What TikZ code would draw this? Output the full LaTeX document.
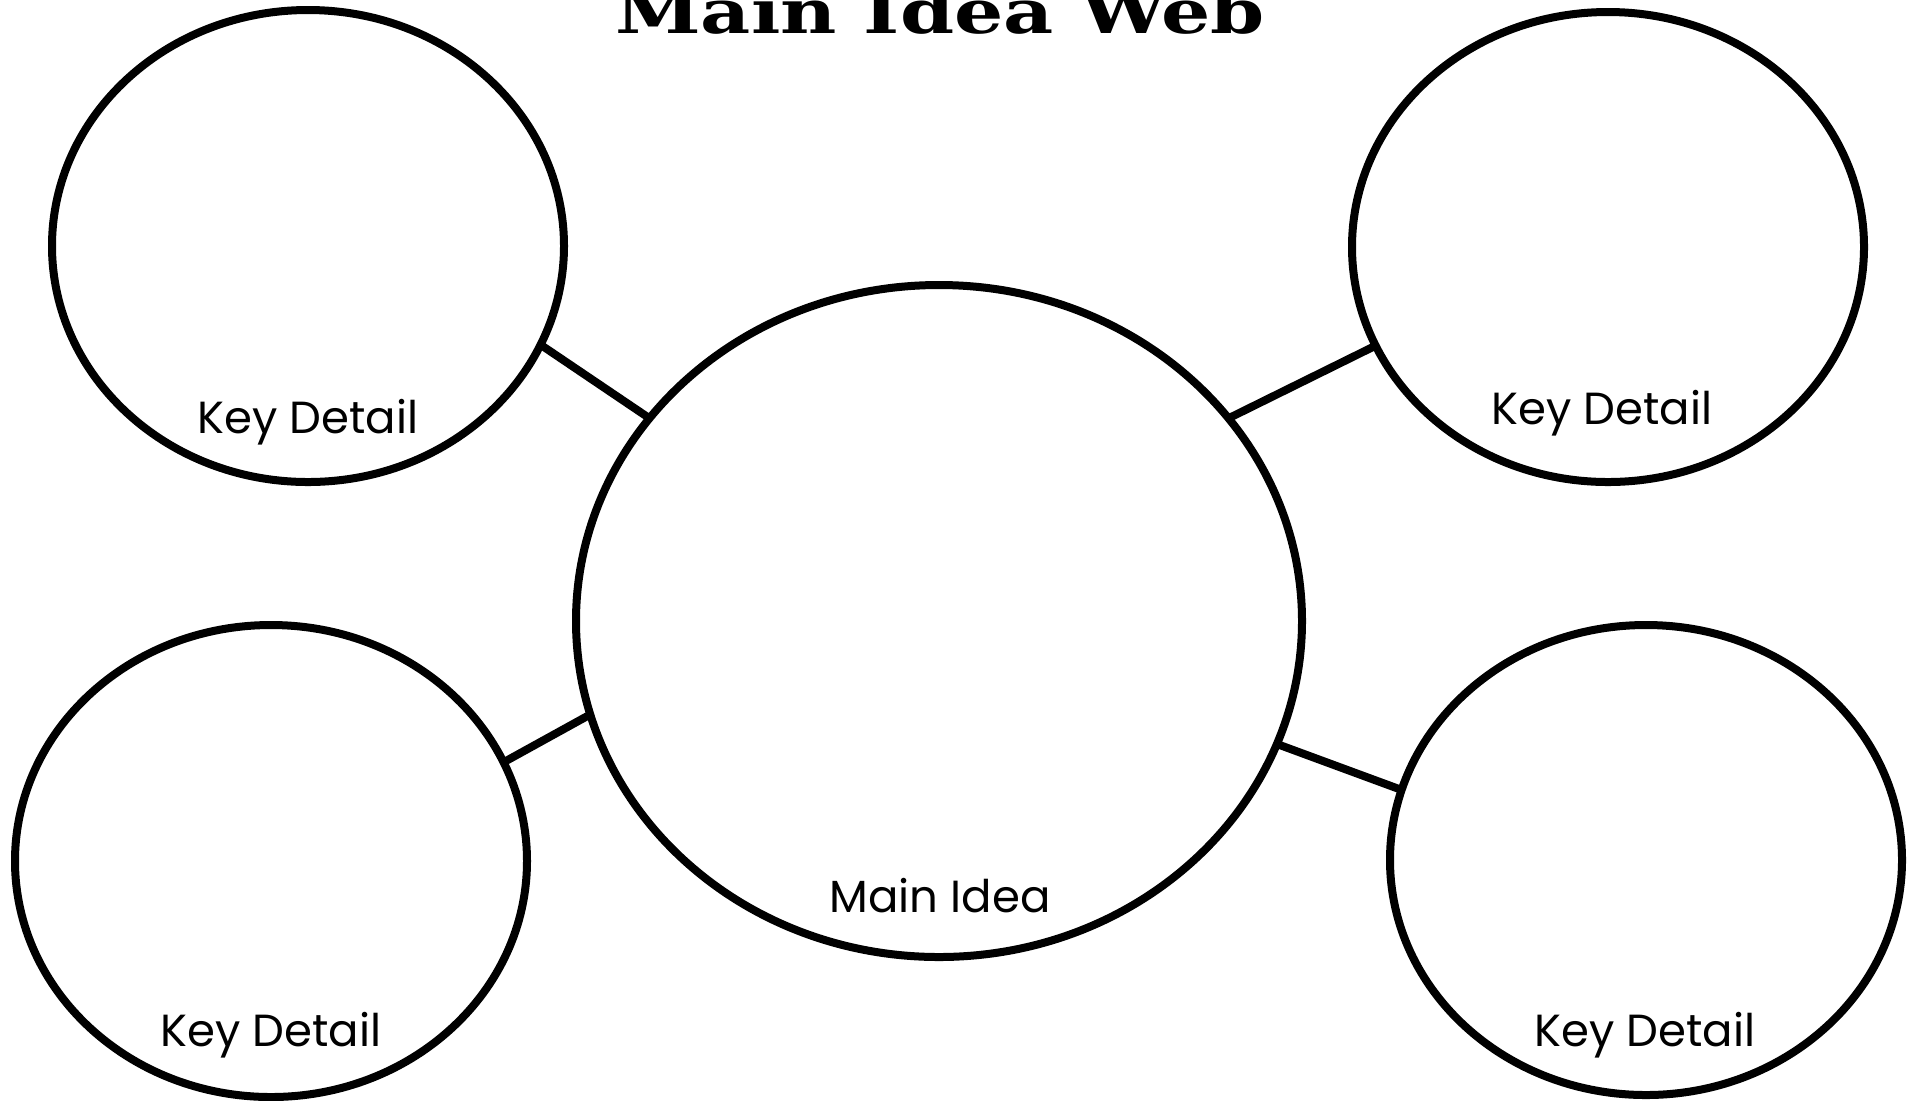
\documentclass[tikz,border=0pt]{standalone}
\usepackage{fontspec}
\setmainfont{Poppins}
\newfontfamily\titlefont{DejaVu Serif}
\usetikzlibrary{shapes.geometric}
\begin{document}
\begin{tikzpicture}[x=0.5pt,y=-0.5pt,
  bubble/.style={draw=black,line width=4pt,ellipse,inner sep=0pt,outer sep=0pt},
  link/.style={draw=black,line width=4pt},
  lbl/.style={font=\fontsize{22.5}{27}\selectfont,anchor=base,inner sep=0pt},
]
\useasboundingbox[fill=white] (0,0) rectangle (1915,1100);
\node[bubble,minimum width=256pt,minimum height=236pt] (tl) at (308,246) {};
\node[bubble,minimum width=256pt,minimum height=235pt] (tr) at (1608,247) {};
\node[bubble,minimum width=256pt,minimum height=236pt] (bl) at (271,861) {};
\node[bubble,minimum width=256pt,minimum height=235pt] (br) at (1646,860) {};
\node[bubble,minimum width=363pt,minimum height=336pt] (main) at (939,621) {};
\draw[link] (tl.-23.3) -- (main.145.5);
\draw[link] (tr.203) -- (main.35);
\draw[link] (bl.23.2) -- (main.195.4);
\draw[link] (br.164.5) -- (main.-20.4);
\node[lbl] (ltl) at (308,433) {Key Detail};
\node[lbl] (ltr) at (1602,424) {Key Detail};
\node[lbl] (lbl) at (271,1046) {Key Detail};
\node[lbl] (lbr) at (1645,1046) {Key Detail};
\node[lbl] (lmain) at (940,912) {Main Idea};
\node[anchor=base,inner sep=0pt,xscale=1.27,font=\titlefont\bfseries\fontsize{30.5}{34}\selectfont] (title) at (940,33) {Main Idea Web};
\end{tikzpicture}
\end{document}
